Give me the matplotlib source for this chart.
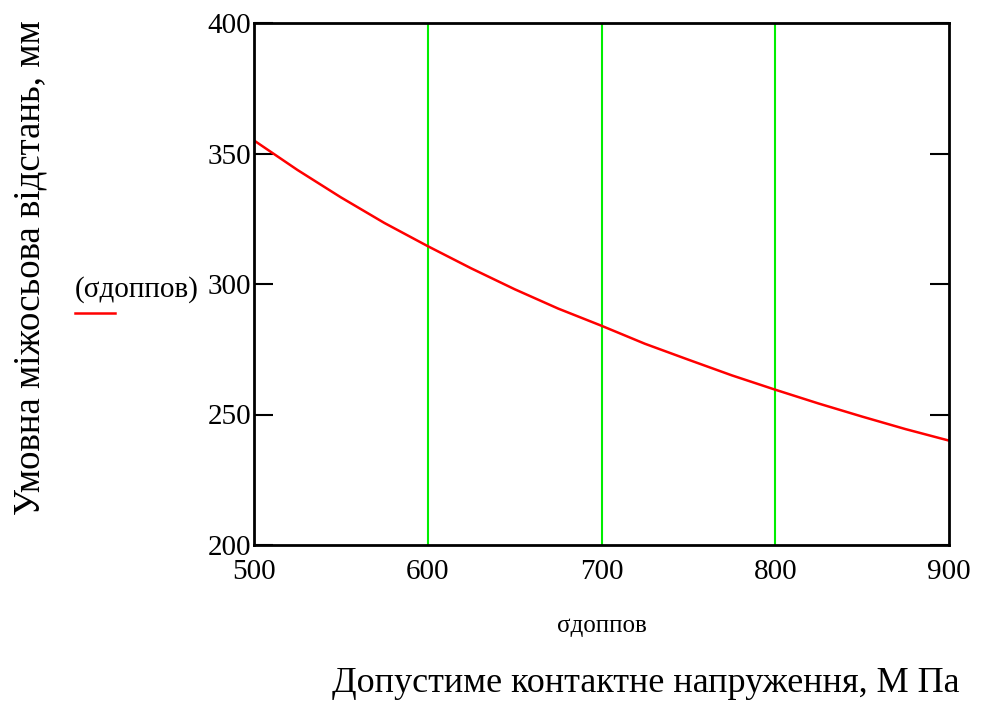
import matplotlib.pyplot as plt
from matplotlib.lines import Line2D

# values
sigma = [500, 525, 550, 575, 600, 625, 650, 675, 700,
         725, 750, 775, 800, 825, 850, 875, 900]
distance = [355, 343.7, 333.2, 323.4, 314.5, 306, 298, 290.6, 284,
            277.1, 271, 265, 259.5, 254.2, 249.2, 244.4, 240]

x_ticks = [500, 600, 700, 800, 900]
y_ticks = [200, 250, 300, 350, 400]
grid_x = [600, 700, 800]

plt.rcParams['font.family'] = ['Liberation Serif', 'DejaVu Serif']

fig = plt.figure(figsize=(9.9, 7.02), dpi=100)
ax = fig.add_axes([254 / 990, 157 / 702, 695 / 990, 522 / 702])

for gx in grid_x:
    ax.axvline(gx, color='#00ee00', linewidth=1.5, zorder=1)

ax.plot(sigma, distance, color='red', linewidth=1.8, zorder=2)

ax.set_xlim(500, 900)
ax.set_ylim(200, 400)
ax.set_xticks(x_ticks)
ax.set_yticks(y_ticks)
ax.tick_params(axis='y', direction='in', length=14, width=1.5, pad=2,
               labelsize=21, right=True)
ax.tick_params(axis='x', length=0, pad=10, labelsize=21)
for s in ax.spines.values():
    s.set_linewidth(2)

ax.set_xlabel('σдоппов', fontsize=18, labelpad=22)

fig.text(199 / 990, 1 - 290 / 702, '(σдоппов)', fontsize=21,
         ha='right', va='center')
fig.add_artist(Line2D([75 / 990, 115 / 990], [1 - 313 / 702, 1 - 313 / 702],
                      color='red', linewidth=1.8))

fig.text(30 / 990, 1 - 268 / 702, 'Умовна міжосьова відстань, мм',
         fontsize=26.5, rotation=90, ha='center', va='center')
fig.text(960 / 990, 1 - 683 / 702, 'Допустиме контактне напруження, М Па',
         fontsize=26, ha='right', va='center')

fig.savefig('out.png', dpi=100)
